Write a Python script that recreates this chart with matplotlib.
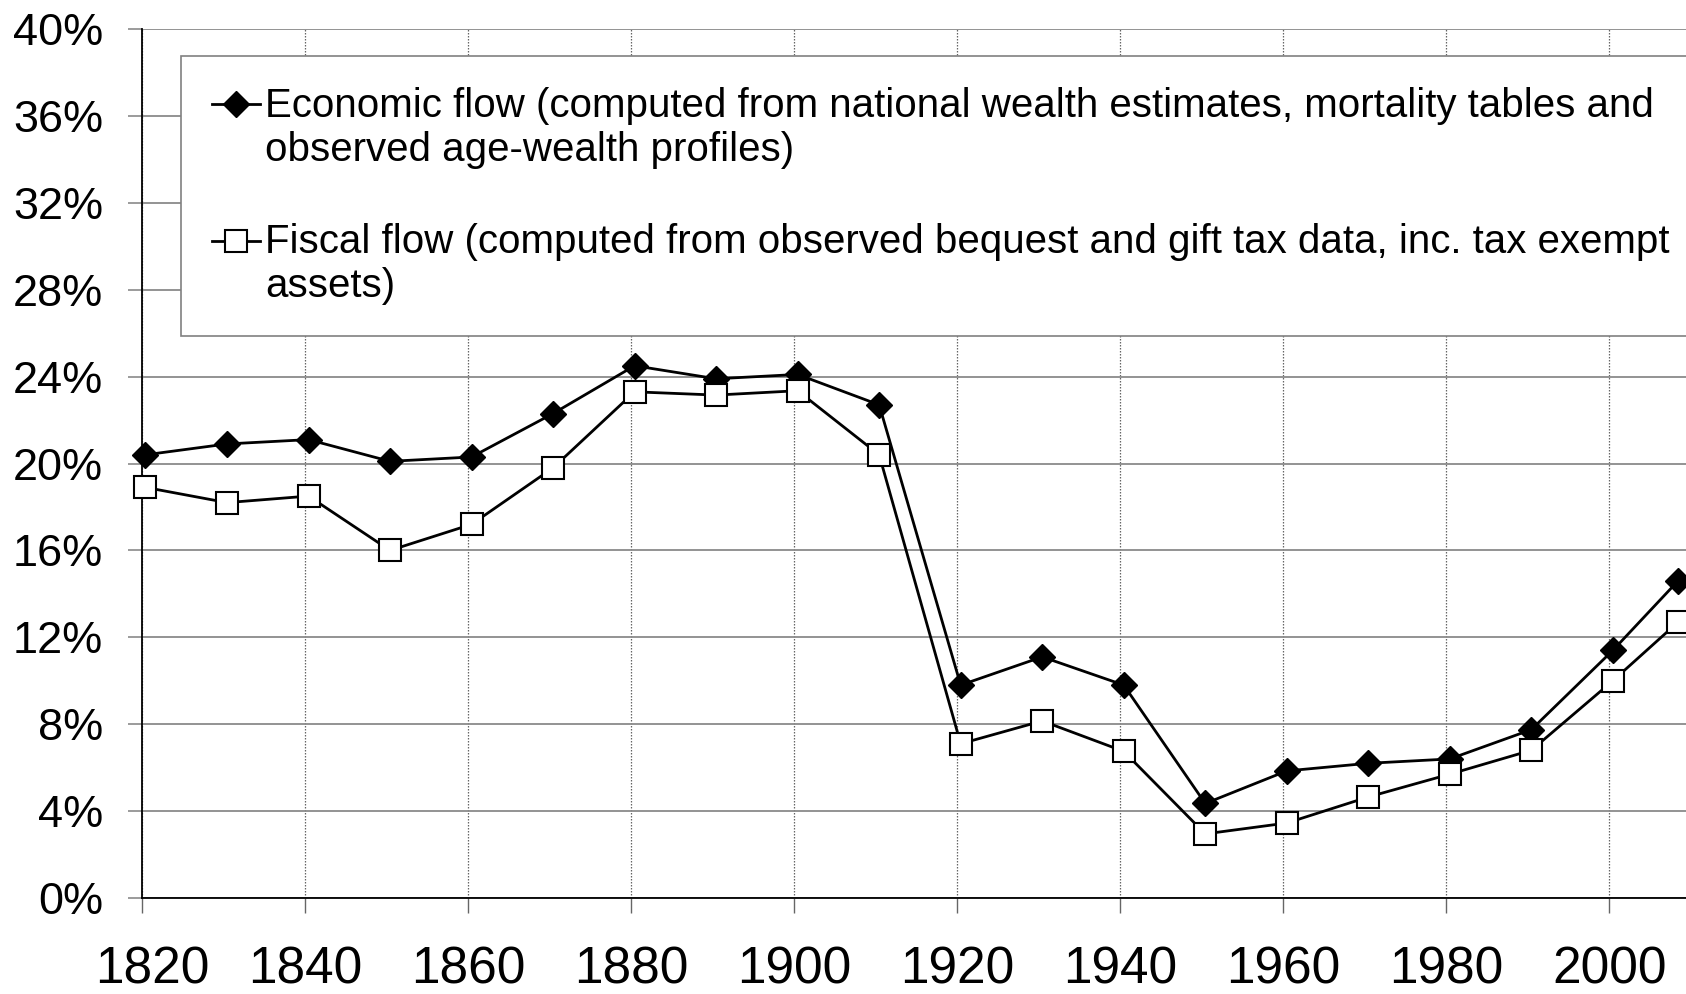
import matplotlib
matplotlib.use("Agg")
import matplotlib.pyplot as plt
from matplotlib.legend_handler import HandlerLine2D
from matplotlib.ticker import FuncFormatter
from matplotlib.transforms import ScaledTranslation

plt.rcParams["font.family"] = ["Liberation Sans", "DejaVu Sans"]

years = [1820, 1830, 1840, 1850, 1860, 1870, 1880, 1890, 1900, 1910,
         1920, 1930, 1940, 1950, 1960, 1970, 1980, 1990, 2000, 2008]
economic = [20.4, 20.9, 21.1, 20.1, 20.3, 22.3, 24.5, 23.9, 24.1, 22.7,
            9.8, 11.1, 9.8, 4.35, 5.85, 6.2, 6.4, 7.75, 11.4, 14.6]
fiscal = [18.9, 18.2, 18.5, 16.0, 17.2, 19.8, 23.3, 23.15, 23.35, 20.4,
          7.1, 8.15, 6.75, 2.95, 3.45, 4.65, 5.7, 6.8, 10.0, 12.7]

label_econ = ("Economic flow (computed from national wealth estimates, mortality tables and\n"
              "observed age-wealth profiles)")
label_fisc = ("Fiscal flow (computed from observed bequest and gift tax data, inc. tax exempt\n"
              "assets)")

x_ticks = list(range(1820, 2001, 20))
y_ticks = list(range(0, 41, 4))


class FirstLineHandler(HandlerLine2D):
    # put the legend symbol on the first text line, like the original
    def create_artists(self, legend, orig_handle, xdescent, ydescent,
                       width, height, fontsize, trans):
        return super().create_artists(legend, orig_handle, xdescent,
                                      ydescent - 1.2 * fontsize, width, height,
                                      fontsize, trans)


fig = plt.figure(figsize=(16.86, 9.94), dpi=100)
ax = fig.add_axes([0.0842, 0.0966, 0.9158, 0.8742])

# the original draws the points a few pixels right of the year gridlines
shift = ax.transData + ScaledTranslation(0.035, 0, fig.dpi_scale_trans)

ax.plot(years, economic, color="black", lw=2, marker="D", ms=13.5,
        mfc="black", mec="black", label=label_econ, zorder=3,
        transform=shift, clip_on=False)
ax.plot(years, fiscal, color="black", lw=2, marker="s", ms=15.5,
        mfc="white", mec="black", mew=1.5, label=label_fisc, zorder=3,
        transform=shift, clip_on=False)

ax.set_xlim(1820, 2009.4)
ax.set_ylim(0, 40)
ax.set_xticks(x_ticks)
ax.set_yticks(y_ticks)
ax.yaxis.set_major_formatter(FuncFormatter(lambda v, p: f"{v:.0f}%"))

ax.grid(axis="y", color="#8a8a8a", lw=1.3, zorder=0)
ax.grid(axis="x", color="#666666", lw=0.9, ls=(0, (1.2, 1.2)), zorder=0)

for side in ("top", "right"):
    ax.spines[side].set_visible(False)
for side in ("left", "bottom"):
    ax.spines[side].set_color("black")
    ax.spines[side].set_linewidth(1.3)
    ax.spines[side].set_zorder(2.5)

ax.tick_params(axis="y", direction="out", length=10, width=1.2, color="#8a8a8a",
               labelsize=32.5, pad=18)
ax.tick_params(axis="x", direction="out", length=11, width=1.0, color="#666666",
               labelsize=37, pad=23)

first = ax.get_xticklabels()[0]
first.set_transform(first.get_transform() + ScaledTranslation(0.1, 0, fig.dpi_scale_trans))

leg = ax.legend(loc="upper left", bbox_to_anchor=(0.0253, 0.969), borderaxespad=0,
                fontsize=29, frameon=True, fancybox=False, framealpha=1,
                edgecolor="#808080", handlelength=1.2, handletextpad=0.13,
                labelspacing=1.35, borderpad=0.76, numpoints=1,
                handler_map={plt.Line2D: FirstLineHandler()})
leg.get_frame().set_linewidth(1.2)
leg.set_zorder(4)

fig.savefig("out.png", dpi=100)
